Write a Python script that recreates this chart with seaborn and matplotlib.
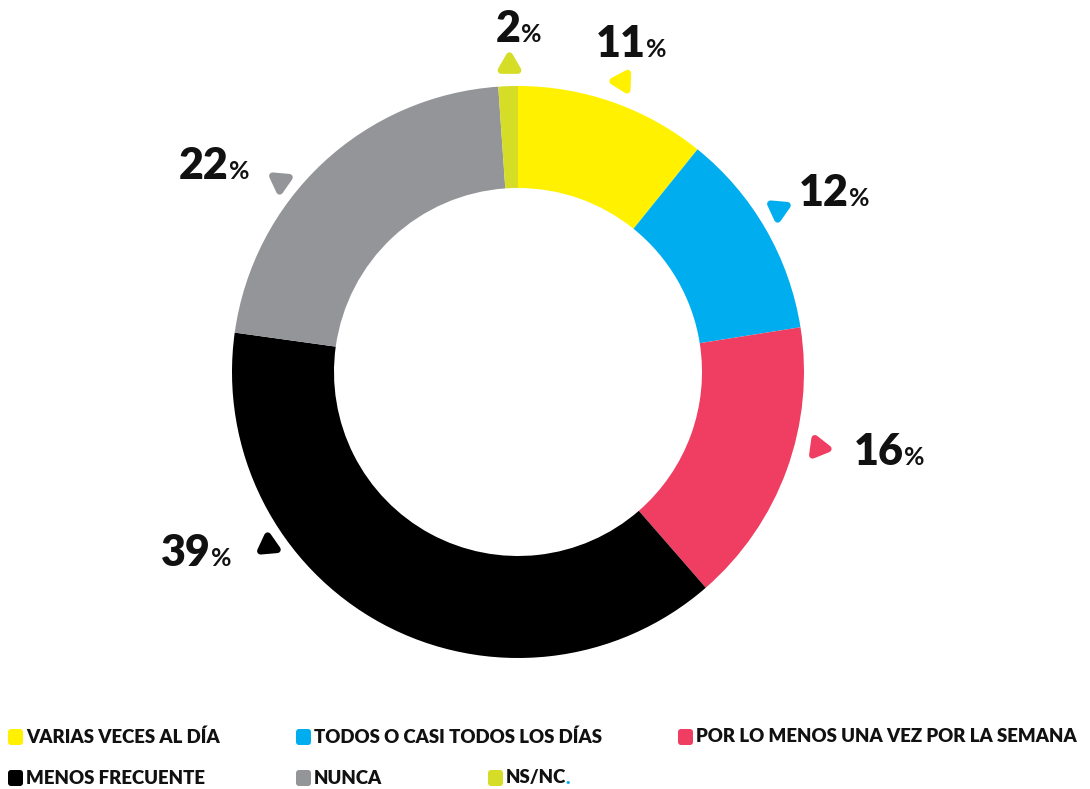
import matplotlib
matplotlib.use("Agg")
import matplotlib.pyplot as plt
import seaborn as sns
from matplotlib.patches import FancyBboxPatch
from matplotlib.markers import MarkerStyle

# ---------------- data ----------------
categories = ["VARIAS VECES AL DÍA", "TODOS O CASI TODOS LOS DÍAS",
              "POR LO MENOS UNA VEZ POR LA SEMANA", "MENOS FRECUENTE",
              "NUNCA", "NS/NC"]
shares = [10.8, 11.7, 16.1, 38.6, 21.7, 1.1]     # slice sizes as drawn
labels = ["11", "12", "16", "39", "22", "2"]      # printed percentages
colors = ["#FFF100", "#00AEEF", "#EF3E61", "#000000", "#939598", "#D5DD26"]

# ---------------- layout ----------------
W, H = 1090, 789
sns.set_theme(style="white")
plt.rcParams['font.family'] = ['Lato', 'DejaVu Sans']

fig = plt.figure(figsize=(W / 100, H / 100), dpi=100)
ax = fig.add_axes([0, 0, 1, 1])


def Y(y):
    return H - y


ax.pie(shares, colors=colors, startangle=90, counterclock=False,
       radius=286, center=(518, Y(372)),
       wedgeprops=dict(width=102, linewidth=0, antialiased=True))
ax.set_xlim(0, W)
ax.set_ylim(0, H)
ax.set_aspect('equal')
ax.axis('off')

# label placement: (digit right x, baseline y, marker x, marker y, marker rotation)
label_pos = [
    (646, 57, 622, 81, 88),
    (849, 206, 778, 209, 175),
    (904, 465, 818, 447, 262),
    (211, 566, 268, 545, 5),
    (229, 179, 280, 181, 175),
    (521, 42, 509, 65, 0),
]

for lab, col, (tx, ty, mx, my, rot) in zip(labels, colors, label_pos):
    ax.text(tx, Y(ty), lab, ha='right', va='baseline', fontsize=31,
            fontweight='heavy', color='#111111')
    ax.text(tx, Y(ty), '%', ha='left', va='baseline', fontsize=18,
            fontweight='bold', color='#111111')
    m = MarkerStyle((3, 0, rot), joinstyle='round')
    ax.plot([mx], [Y(my)], marker=m, ms=14, color=col, mec=col, mew=5,
            linestyle='none')

# legend
leg_pos = [(8, 737), (296, 737), (678, 737), (8, 778), (296, 778), (488, 778)]
for cat, col, (lx, ly) in zip(categories, colors, leg_pos):
    box = FancyBboxPatch((lx + 2, Y(ly) - 6), 11, 12,
                         boxstyle="round,pad=2,rounding_size=3",
                         facecolor=col, edgecolor='none')
    ax.add_patch(box)
    t = ax.text(lx + 18, Y(ly), cat, ha='left', va='center', fontsize=13.4,
                fontweight='heavy', color='#111111')
    if cat == "NS/NC":
        ax.annotate('.', xy=(1, 0), xycoords=t, xytext=(-0.5, 0),
                    textcoords='offset points', ha='left', va='bottom',
                    fontsize=13.4, fontweight='heavy', color='#00AEEF')

fig.savefig("out.png", dpi=100)
